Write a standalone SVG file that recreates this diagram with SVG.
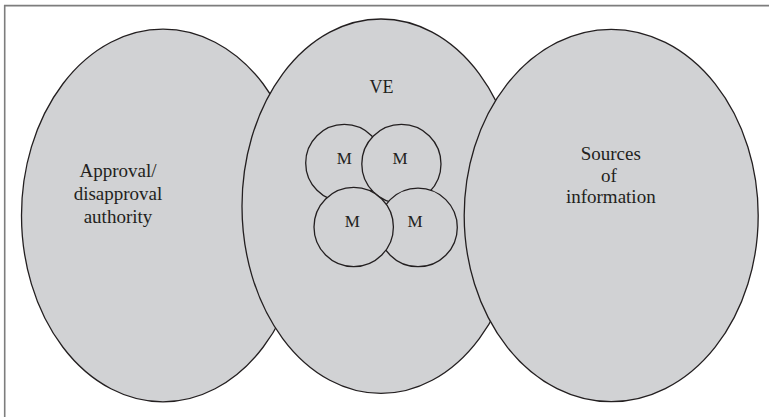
<svg xmlns="http://www.w3.org/2000/svg" width="769" height="417" viewBox="0 0 769 417">
  <style>
    .region { fill: #d1d2d4; stroke: #231f20; stroke-width: 1.3; }
    .member { fill: #d1d2d4; stroke: #231f20; stroke-width: 1.3; }
    .frame { fill: none; stroke: #7d7d7d; stroke-width: 1.6; }
    text { font-family: "Liberation Serif", "Times New Roman", serif; fill: #231f20; text-anchor: middle; }
    .label { font-size: 19px; }
    .m { font-size: 17px; }
  </style>

  <!-- open frame: top and left edges only -->
  <path class="frame" d="M4.7 417 V5.6 H769"/>

  <g id="connectors"/>

  <!-- approval / disapproval authority -->
  <g id="authority">
    <ellipse class="region" cx="163" cy="215.5" rx="141.5" ry="186.3"/>
    <text class="label" x="118" y="176.7">Approval/</text>
    <text class="label" x="118" y="200">disapproval</text>
    <text class="label" x="118" y="223.3">authority</text>
  </g>

  <!-- virtual enterprise -->
  <g id="ve">
    <ellipse class="region" cx="381" cy="206.2" rx="139" ry="187.2"/>
    <text class="label" x="381.5" y="93.3" style="font-size:18px">VE</text>
  </g>

  <!-- members inside the VE -->
  <g id="m1">
    <circle class="member" cx="344.3" cy="163" r="38.6"/>
    <text class="m" x="344.2" y="164.3">M</text>
  </g>
  <g id="m2">
    <circle class="member" cx="401.4" cy="164" r="39.6"/>
    <text class="m" x="400" y="164.3">M</text>
  </g>
  <g id="m4">
    <circle class="member" cx="418" cy="227.4" r="39.3"/>
    <text class="m" x="415" y="227.3">M</text>
  </g>
  <g id="m3">
    <circle class="member" cx="353.7" cy="227" r="39.7"/>
    <text class="m" x="352.3" y="227.3">M</text>
  </g>

  <!-- sources of information -->
  <g id="sources">
    <ellipse class="region" cx="611.2" cy="215.5" rx="147" ry="186.2"/>
    <text class="label" x="610.8" y="160">Sources</text>
    <text class="label" x="609" y="181.5">of</text>
    <text class="label" x="610.8" y="203">information</text>
  </g>
</svg>
